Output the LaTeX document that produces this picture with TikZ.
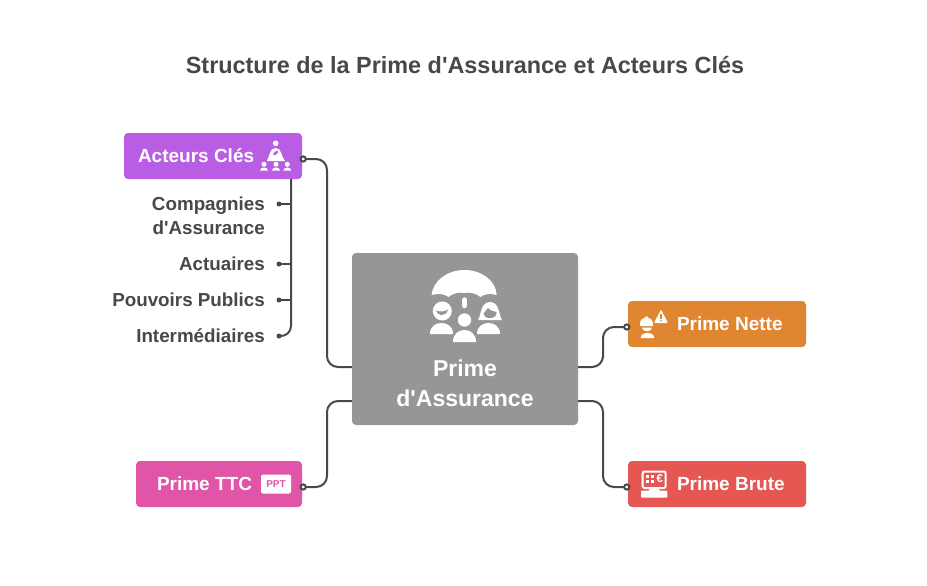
\documentclass[tikz,border=0pt]{standalone}
\usepackage{fontspec}
\setmainfont[Ligatures=TeXOff]{Liberation Sans}
\usetikzlibrary{calc,positioning}
\definecolor{inkgrey}{HTML}{484848}
\definecolor{centregrey}{HTML}{969696}
\definecolor{actpurple}{HTML}{BA5DE5}
\definecolor{netorange}{HTML}{E08631}
\definecolor{brutered}{HTML}{E55753}
\definecolor{ttcpink}{HTML}{E055A8}
% bust of a person: centre x, top y, half width, height
\newcommand{\bust}[4]{
        \fill[white] (#1-#3,#2+#4) .. controls (#1-#3,#2+0.3*#4) and (#1-0.5*#3,#2) .. (#1,#2)
                .. controls (#1+0.5*#3,#2) and (#1+#3,#2+0.3*#4) .. (#1+#3,#2+#4) -- cycle;
}
\begin{document}
\begin{tikzpicture}[x=1pt,y=-1pt]
        \tikzset{
                basic/.style    = {draw=none, rectangle, rounded corners=4pt, inner sep=0pt, font=\bfseries},
                branch/.style   = {basic, minimum width=178pt, minimum height=46pt},
                boxtext/.style  = {font=\fontsize{19}{23}\selectfont\bfseries, text=white, inner sep=0pt},
                leaftext/.style = {font=\fontsize{18.8}{24}\selectfont\bfseries, text=inkgrey, inner sep=0pt, align=right, anchor=east},
                link/.style     = {draw=inkgrey, line width=2pt, rounded corners=11pt},
                socket/.style   = {draw=inkgrey, fill=white, line width=2pt},
                leafdot/.style  = {fill=inkgrey}
        }
        \useasboundingbox (0,0) rectangle (927,586);
        \fill[white] (0,0) rectangle (927,586);

        % title
        \node[font=\fontsize{23.4}{28}\selectfont\bfseries, text=inkgrey, inner sep=0pt] (title) at (465,65)
                {Structure de la Prime d'Assurance et Acteurs Clés};

        % centre and the four boxes
        \node[basic, fill=centregrey, minimum width=226pt, minimum height=172pt] (prime) at (465,339) {};
        \node[branch, fill=actpurple] (acteurs) at (213,156) {};
        \node[branch, fill=ttcpink, minimum width=166pt] (ttc) at (219,484) {};
        \node[branch, fill=netorange] (nette) at (717,324) {};
        \node[branch, fill=brutered] (brute) at (717,484) {};

        % box texts
        \node[boxtext, align=center, font=\fontsize{23}{30}\selectfont\bfseries] (primetext) at (465,383.5) {Prime\\d'Assurance};
        \node[boxtext, anchor=west] (acteurstext) at ($(acteurs.west)+(14,0)$) {Acteurs Clés};
        \node[boxtext, anchor=west] (ttctext) at ($(ttc.west)+(21,0)$) {Prime TTC};
        \node[boxtext, anchor=west] (nettetext) at ($(nette.west)+(49,0)$) {Prime Nette};
        \node[boxtext, anchor=west] (brutetext) at ($(brute.west)+(49,0)$) {Prime Brute};

        % leaves of Acteurs Clés
        \node[leaftext] (leaf1) at (265,216) {Compagnies\\d'Assurance};
        \node[leaftext] (leaf2) at (265,264) {Actuaires};
        \node[leaftext] (leaf3) at (265,300) {Pouvoirs Publics};
        \node[leaftext] (leaf4) at (265,336) {Intermédiaires};
        \coordinate (trunk) at ($(acteurs.south)+(78,0)$);
        \coordinate (end1) at (279,204);
        \coordinate (end2) at (279,264);
        \coordinate (end3) at (279,300);
        \coordinate (end4) at (279,336);
        \draw[link, rounded corners=10pt] (trunk) |- (end4);
        \foreach \leaf in {1,2,3} {
                \draw[link] (end\leaf) -- (trunk |- end\leaf);
        }
        \foreach \leaf in {1,2,3,4} {
                \fill[leafdot] (end\leaf) circle (2.5pt);
        }

        % links from the centre, each ends on a small socket
        \coordinate (outact) at ($(acteurs.east)+(1,3)$);
        \coordinate (outttc) at ($(ttc.east)+(1,3)$);
        \coordinate (outnet) at ($(nette.west)+(-1,3)$);
        \coordinate (outbru) at ($(brute.west)+(-1,3)$);
        \coordinate (inact) at (prime.west |- 0,367);
        \coordinate (inttc) at (prime.west |- 0,401);
        \coordinate (innet) at (prime.east |- 0,367);
        \coordinate (inbru) at (prime.east |- 0,401);
        \draw[link] (outact) -| (327,263) |- (inact);
        \draw[link] (outttc) -| (327,444) |- (inttc);
        \draw[link] (outnet) -| (603,347) |- (innet);
        \draw[link] (outbru) -| (603,444) |- (inbru);
        \foreach \out in {outact,outttc,outnet,outbru} {
                \draw[socket] (\out) circle (2.6pt);
        }

        % icon: umbrella over three people
        \fill[white] (431.5,295) .. controls (433,281) and (447,270) .. (464.5,270)
                .. controls (482,270) and (496,281) .. (496.7,295)
                .. controls (490,293) and (484,294) .. (480.5,297)
                .. controls (476,293) and (469,292) .. (464.5,293)
                .. controls (459,292) and (453,293) .. (448.5,297)
                .. controls (445,294) and (438,293) .. (431.5,295) -- cycle;
        \draw[white, line width=5.5pt, line cap=round] (464.5,300) -- (464.5,305.5);
        \fill[white] (442.3,311) circle (9.5pt);
        \fill[centregrey] (436,310.5) .. controls (440,312) and (444,312) .. (448,309.5)
                .. controls (447.5,313) and (444.5,315) .. (441.7,315) .. controls (438.5,315) and (436.5,313) .. (436,310.5) -- cycle;
        \fill[white] (464.5,320) circle (6.7pt);
        \fill[white] (478,320) .. controls (481,317) and (480,302) .. (490,302)
                .. controls (500,302) and (499,317) .. (502,320) -- cycle;
        \fill[centregrey] (483.5,314) .. controls (484,311) and (487,310.5) .. (488,308)
                .. controls (490,311) and (494,311) .. (496.5,312)
                .. controls (497,316) and (494,318) .. (490,318) .. controls (486,318) and (484,316.5) .. (483.5,314) -- cycle;
        \bust{441.5}{323}{11.5}{11}
        \bust{464.5}{330}{11.5}{12}
        \bust{488.5}{323}{11.5}{11}

        % icon: people around a person
        \fill[white] (275.7,143.3) circle (2.8pt);
        \fill[white] (266.7,161) .. controls (270,157) and (269,148) .. (275.7,148)
                .. controls (282,148) and (281,157) .. (285,161) -- cycle;
        \fill[actpurple] (273,155) .. controls (273,152.5) and (275,151) .. (278,150.5)
                .. controls (278.5,153.5) and (276,155.5) .. (273,155) -- cycle;
        \foreach \xpos in {264,276,287.3} {
                \fill[white] (\xpos,164.3) circle (2.5pt);
                \bust{\xpos}{167.5}{4}{3.2}
        }

        % icon: worker and warning sign
        \fill[white] (640,326) -- (653,326) -- (653,324) .. controls (653,320) and (650,318) .. (648,317.5)
                -- (648,316.5) -- (645,316.5) -- (645,317.5) .. controls (643,318) and (640,320) .. (640,324) -- cycle;
        \fill[white] (642,327.5) -- (652,327.5) .. controls (651.5,332.5) and (642.5,332.5) .. (642,327.5) -- cycle;
        \bust{647.5}{333}{6.8}{5}
        \fill[white, rounded corners=1pt] (661,309.5) -- (668,323) -- (654,323) -- cycle;
        \draw[netorange, line width=1.4pt] (661,314) -- (661,318.5);
        \fill[netorange] (661,320.5) circle (0.8pt);

        % icon: screen with the euro sign
        \draw[white, line width=2pt, rounded corners=2pt] (642.7,471.5) rectangle (665.7,488);
        \foreach \xpos in {646.2,650.9} {
                \foreach \ypos in {475,479.7} {
                        \fill[white] (\xpos,\ypos) rectangle +(3.2,3.2);
                }
        }
        \node[font=\fontsize{11.5}{11}\selectfont\bfseries, text=white, inner sep=0pt] (euro) at (659.7,479) {€};
        \fill[white] (650.5,488) -- (658,488) -- (660,491) -- (648.5,491) -- cycle;
        \fill[white, rounded corners=1pt] (641,490.5) rectangle (667.3,497.7);

        % icon: badge
        \node[basic, fill=white, minimum width=30pt, minimum height=19pt, rounded corners=2pt,
                text=ttcpink, font=\fontsize{10}{10}\selectfont\bfseries] (badge) at (276,484) {PPT};
\end{tikzpicture}
\end{document}
